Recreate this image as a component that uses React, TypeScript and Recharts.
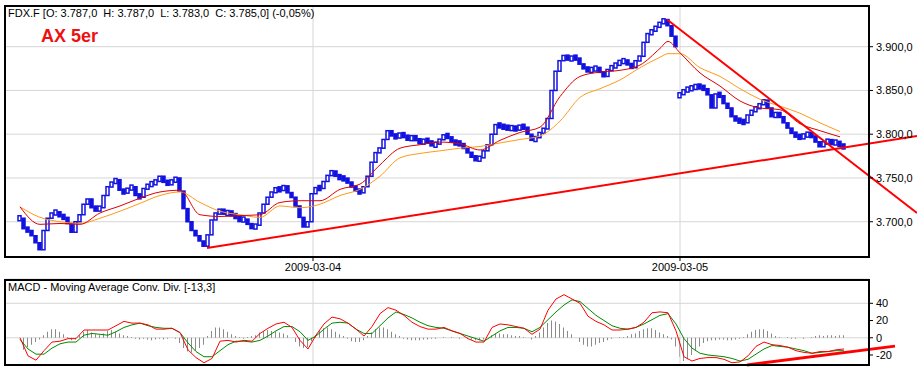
import {
  Bar,
  CartesianGrid,
  ComposedChart,
  Line,
  ReferenceLine,
  XAxis,
  YAxis,
} from "recharts";

// 5-min closes, FDAX, bar index 0 = first bar on screen
const closes = [
  3704, 3692, 3690, 3684, 3676, 3668, 3690, 3704, 3710, 3711,
  3706, 3705, 3698, 3688, 3700, 3708, 3720, 3726, 3716, 3714,
  3716, 3730, 3740, 3745, 3748, 3736, 3733, 3738, 3740, 3730,
  3728, 3738, 3742, 3744, 3746, 3752, 3745, 3744, 3746, 3750,
  3735, 3715, 3700, 3690, 3684, 3678, 3672, 3685, 3702, 3710,
  3713, 3710, 3710, 3709, 3704, 3702, 3703, 3697, 3693, 3696,
  3710, 3720, 3728, 3734, 3738, 3736, 3741, 3733, 3728, 3718,
  3705, 3694, 3700, 3732, 3739, 3738, 3746, 3753, 3758, 3752,
  3750, 3749, 3745, 3740, 3736, 3733, 3740, 3752, 3768, 3779,
  3784, 3794, 3804, 3798, 3797, 3800, 3798, 3794, 3797, 3794,
  3790, 3793, 3792, 3787, 3789, 3794, 3799, 3797, 3791, 3790,
  3789, 3784, 3779, 3774, 3771, 3773, 3781, 3788, 3800, 3811,
  3809, 3808, 3807, 3807, 3806, 3809, 3808, 3800, 3793, 3796,
  3802, 3806, 3818, 3850, 3872, 3884, 3890, 3885, 3888, 3887,
  3880, 3875, 3873, 3874, 3876, 3871, 3866, 3874, 3877, 3880,
  3883, 3884, 3880, 3876, 3884, 3889, 3905, 3915, 3918, 3923,
  3927, 3931, 3924, 3912, 3900, 3846, 3850, 3852, 3853, 3855,
  3854, 3852, 3845, 3830, 3846, 3844, 3835, 3830, 3820, 3816,
  3815, 3813, 3822, 3827, 3830, 3834, 3839, 3830, 3820, 3824,
  3820, 3813, 3807, 3801, 3798, 3796, 3799, 3800, 3798, 3791,
  3786, 3791, 3792, 3790, 3791, 3787, 3785,
];

// opening print of 2009-03-05 (overnight gap)
const gapBar = 165;
const gapOpen = 3843;

const dayTicks = [73.25, 165];
const dayLabels = ["2009-03-04", "2009-03-05"];

const priceTicks = [3700, 3750, 3800, 3850, 3900];

// moving averages, read at these bar indices
const maIdx = [
  0, 5, 10, 15, 20, 25, 30, 35, 40, 45, 50, 55, 60, 65, 70, 75, 80, 85, 90,
  95, 100, 105, 110, 115, 120, 125, 130, 135, 140, 145, 150, 155, 160, 162,
  165, 170, 175, 180, 185, 190, 195, 200, 205,
];
const maFast = [
  3717, 3697, 3698, 3697, 3710, 3718, 3727, 3734, 3736, 3708, 3706, 3707,
  3708, 3722, 3724, 3724, 3737, 3743, 3765, 3784, 3788, 3791, 3789, 3782,
  3793, 3802, 3808, 3843, 3866, 3871, 3873, 3879, 3898, 3906, 3893, 3870,
  3855, 3838, 3830, 3828, 3812, 3804, 3797,
];
const maSlow = [
  3717, 3705, 3700, 3698, 3704, 3712, 3721, 3730, 3734, 3722, 3712, 3708,
  3705, 3718, 3716, 3720, 3730, 3737, 3752, 3773, 3778, 3781, 3784, 3786,
  3790, 3794, 3798, 3815, 3842, 3852, 3862, 3876, 3888, 3892, 3892, 3876,
  3866, 3852, 3840, 3832, 3824, 3813, 3803,
];

// trend lines [barIndex, price]
const supportLine = [
  [46.75, 3670],
  [224.25, 3798],
];
const resistLine = [
  [161.75, 3931],
  [224.25, 3710],
];

// MACD, every 2nd bar
const macdLine = [
  0, -21, -26, -15, -5, -4, -1, -1, 9, 9,
  9, 9, 14, 19, 17, 17, 15, 10, 10, 11,
  6, -14, -23, -29, -24, -4, -3, -5, -3, -4,
  5, 11, 16, 18, 12, -3, -13, 3, 16, 24,
  22, 17, 10, 2, 13, 28, 35, 32, 26, 18,
  13, 10, 10, 12, 8, 5, -1, -5, -5, 12,
  16, 15, 13, 11, 4, 10, 32, 45, 50, 45,
  40, 25, 19, 15, 9, 9, 10, 12, 18, 29,
  30, 29, 8, -22, -27, -24, -23, -23, -25, -29,
  -28, -21, -10, -5, -8, -9, -11, -15, -17, -18,
  -16, -16, -14, -13,
];
const signalLine = [
  -2, -13, -19, -19, -12, -7, -5, -5, 3, 5,
  4, 3, 7, 12, 15, 17, 14, 12, 11, 11,
  6, -6, -16, -22, -22, -15, -8, -4, -4, -5,
  -3, 2, 8, 13, 13, 7, -3, 2, 10, 17,
  18, 17, 10, 5, 5, 14, 23, 30, 27, 23,
  18, 14, 12, 11, 8, 5, 2, -1, -4, 2,
  8, 12, 12, 11, 7, 12, 21, 30, 38, 44,
  42, 34, 26, 20, 14, 11, 10, 12, 16, 21,
  26, 28, 16, -1, -12, -18, -20, -21, -22, -24,
  -27, -25, -19, -13, -9, -10, -11, -13, -15, -18,
  -17, -16, -15, -15,
];
// histogram, every bar
const macdHist = [
  0, -14, -11, -8, -5, -2, 3, 7, 10, 10,
  7, 4, 1, -3, -2, 3, 7, 9, 6, 4,
  3, 5, 8, 9, 7, 5, 3, 2, 1, -1,
  -2, -1, -2, -3, -2, -1, -2, -1, 0, -1,
  -6, -12, -16, -17, -15, -12, -8, 2, 8, 12,
  12, 10, 7, 4, 2, 1, -1, 1, 2, 3,
  6, 8, 9, 8, 7, 6, 5, 3, 0, -5,
  -10, -12, -11, -4, 3, 8, 11, 12, 10, 7,
  4, 2, -1, -4, -5, -5, -3, 2, 6, 10,
  12, 12, 10, 7, 4, 2, -1, -2, -3, -3,
  -3, -2, -2, -1, -1, 0, 1, 0, 1, 0,
  -1, 0, -1, -2, -3, -3, -2, 0, 3, 5,
  5, 4, 4, 3, 2, 2, 1, 0, -2, 2,
  6, 12, 17, 20, 19, 16, 12, 8, 4, 0,
  -5, -8, -10, -10, -8, -6, -5, -3, -1, 0,
  1, 1, 2, 4, 5, 8, 10, 11, 11, 9,
  6, 4, 2, -2, -10, -22, -27, -25, -20, -15,
  -10, -6, -4, -3, -3, -2, -2, -3, -3, -2,
  -1, 1, 4, 7, 9, 10, 10, 8, 5, 2,
  1, 0, 1, -1, -1, 0, -1, 0, 1, 2,
  3, 2, 3, 3, 2, 3, 3,
];
const macdTicks = [-20, 0, 20, 40];
const macdTrend = [
  [181.75, -31.5],
  [218.75, -9.7],
];

const candles = closes.map((c, i) => {
  const o = i === 0 ? c : i === gapBar ? gapOpen : closes[i - 1];
  return { x: i, range: [Math.min(o, c), Math.max(o, c)], up: c >= o };
});
const fastData = maIdx.map((x, i) => ({ x, v: maFast[i] }));
const slowData = maIdx.map((x, i) => ({ x, v: maSlow[i] }));
const macdData = macdHist.map((h, i) => ({ x: i, h }));
const macdLineData = macdLine.map((v, i) => ({ x: i * 2, v }));
const signalData = signalLine.map((v, i) => ({ x: i * 2, v }));

const X_DOMAIN = [-3.75, 212.25];
const FONT = "'Liberation Sans', Arial, sans-serif";
const BLUE = "#1212e0";

const Candle = (props: any) => {
  const { x, y, width, height, payload } = props;
  if (x == null || y == null) return null;
  // keep flat bars visible
  const h = Math.max(height || 0, 5);
  const top = y - (h - (height || 0)) / 2;
  return (
    <rect
      x={x}
      y={top}
      width={width}
      height={h}
      fill={payload.up ? "#ffffff" : BLUE}
      stroke={BLUE}
      strokeWidth={1.5}
    />
  );
};

const fmtPrice = (v: number) =>
  `${Math.floor(v / 1000)}.${String(v % 1000).padStart(3, "0")},0`;

export default function App() {
  return (
    <div
      style={{
        position: "absolute",
        left: 0,
        top: 0,
        width: 917,
        height: 369,
        background: "#fff",
        fontFamily: FONT,
        overflow: "hidden",
      }}
    >
      <div style={{ position: "absolute", left: 0, top: 0 }}>
        <ComposedChart
          width={917}
          height={281}
          data={candles}
          margin={{ top: 6, right: 0, bottom: 0, left: 5 }}
        >
          <CartesianGrid stroke="#d6d6d6" />
          <XAxis
            dataKey="x"
            type="number"
            domain={X_DOMAIN}
            allowDataOverflow
            ticks={dayTicks}
            tickFormatter={(v) => dayLabels[dayTicks.indexOf(v)]}
            height={24}
            tickSize={4}
            tickMargin={2}
            stroke="#000"
            tick={{ fontSize: 11, fill: "#000", fontFamily: FONT }}
          />
          <YAxis
            orientation="right"
            domain={[3659.7, 3946.5]}
            allowDataOverflow
            ticks={priceTicks}
            tickFormatter={fmtPrice}
            width={48}
            tickSize={4}
            tickMargin={3}
            stroke="#000"
            tick={{ fontSize: 11, fill: "#000", fontFamily: FONT, textAnchor: "start" }}
          />
          <Bar
            dataKey="range"
            barSize={3}
            shape={Candle}
            isAnimationActive={false}
          />
          <Line
            data={slowData}
            dataKey="v"
            type="monotone"
            stroke="#ff9a1a"
            strokeWidth={1}
            dot={false}
            isAnimationActive={false}
          />
          <Line
            data={fastData}
            dataKey="v"
            type="monotone"
            stroke="#e00000"
            strokeWidth={1}
            dot={false}
            isAnimationActive={false}
          />
          <ReferenceLine
            segment={supportLine.map(([x, y]) => ({ x, y }))}
            stroke="#ff0000"
            strokeWidth={2}
            ifOverflow="visible"
          />
          <ReferenceLine
            segment={resistLine.map(([x, y]) => ({ x, y }))}
            stroke="#ff0000"
            strokeWidth={2}
            ifOverflow="visible"
          />
        </ComposedChart>
      </div>

      <div style={{ position: "absolute", left: 0, top: 270 }}>
        <ComposedChart
          width={917}
          height={99}
          data={macdData}
          margin={{ top: 9, right: 0, bottom: 4, left: 5 }}
        >
          <CartesianGrid stroke="#d6d6d6" vertical={false} />
          <XAxis
            dataKey="x"
            type="number"
            domain={X_DOMAIN}
            allowDataOverflow
            hide
          />
          <YAxis
            orientation="right"
            domain={[-31.6, 68.2]}
            allowDataOverflow
            ticks={macdTicks}
            width={48}
            tickSize={4}
            tickMargin={3}
            stroke="#000"
            tick={{ fontSize: 11, fill: "#000", fontFamily: FONT, textAnchor: "start" }}
          />
          {dayTicks.map((d) => (
            <ReferenceLine key={d} x={d} stroke="#d6d6d6" />
          ))}
          <Bar
            dataKey="h"
            barSize={1}
            fill="#8a8a8a"
            isAnimationActive={false}
          />
          <Line
            data={signalData}
            dataKey="v"
            stroke="#008a00"
            strokeWidth={1}
            dot={false}
            isAnimationActive={false}
          />
          <Line
            data={macdLineData}
            dataKey="v"
            stroke="#ff0000"
            strokeWidth={1}
            dot={false}
            isAnimationActive={false}
          />
          <ReferenceLine
            segment={macdTrend.map(([x, y]) => ({ x, y }))}
            stroke="#ff0000"
            strokeWidth={3}
            ifOverflow="visible"
          />
        </ComposedChart>
      </div>

      {/* panel frames */}
      <div
        style={{
          position: "absolute",
          left: 4,
          top: 5,
          width: 866,
          height: 253,
          border: "2px solid #000",
          boxSizing: "border-box",
          pointerEvents: "none",
        }}
      />
      <div
        style={{
          position: "absolute",
          left: 4,
          top: 279,
          width: 866,
          height: 87,
          border: "2px solid #000",
          boxSizing: "border-box",
          pointerEvents: "none",
        }}
      />

      <div
        style={{
          position: "absolute",
          left: 8,
          top: 7,
          fontSize: 11,
          color: "#000",
          whiteSpace: "pre",
        }}
      >
        {"FDX.F [O: 3.787,0  H: 3.787,0  L: 3.783,0  C: 3.785,0] (-0,05%)"}
      </div>
      <div
        style={{
          position: "absolute",
          left: 41,
          top: 26,
          fontSize: 18,
          fontWeight: "bold",
          color: "#ee1111",
        }}
      >
        AX 5er
      </div>
      <div
        style={{
          position: "absolute",
          left: 8,
          top: 281,
          fontSize: 11,
          color: "#000",
          whiteSpace: "pre",
        }}
      >
        MACD - Moving Average Conv. Div. [-13,3]
      </div>
    </div>
  );
}
